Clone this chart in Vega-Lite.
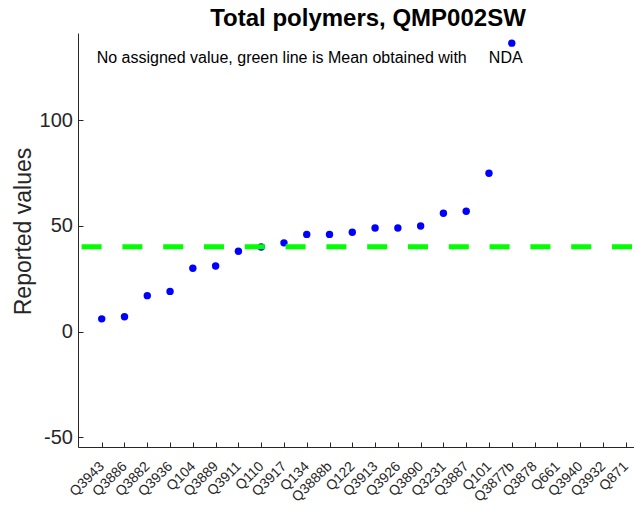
{
  "$schema": "https://vega.github.io/schema/vega-lite/v6.json",
  "width": 556,
  "height": 414,
  "autosize": {"type": "none"},
  "padding": {"left": 78, "top": 33, "right": 0, "bottom": 58},
  "background": "white",
  "config": {"view": {"stroke": null}, "font": "Liberation Sans"},
  "title": {
    "text": "Total polymers, QMP002SW",
    "font": "Liberation Sans",
    "fontSize": 24,
    "fontWeight": "bold",
    "color": "#000000",
    "anchor": "middle",
    "dx": 12,
    "offset": 2
  },
  "datasets": {
    "results": [
      {"lab": "Q3943", "value": 6},
      {"lab": "Q3886", "value": 7},
      {"lab": "Q3882", "value": 17},
      {"lab": "Q3936", "value": 19},
      {"lab": "Q104", "value": 30},
      {"lab": "Q3889", "value": 31},
      {"lab": "Q3911", "value": 38},
      {"lab": "Q110", "value": 40},
      {"lab": "Q3917", "value": 42},
      {"lab": "Q134", "value": 46},
      {"lab": "Q3888b", "value": 46},
      {"lab": "Q122", "value": 47},
      {"lab": "Q3913", "value": 49},
      {"lab": "Q3926", "value": 49},
      {"lab": "Q3890", "value": 50},
      {"lab": "Q3231", "value": 56},
      {"lab": "Q3887", "value": 57},
      {"lab": "Q101", "value": 75},
      {"lab": "Q3877b", "value": 136.6},
      {"lab": "Q3878", "value": null},
      {"lab": "Q661", "value": null},
      {"lab": "Q3940", "value": null},
      {"lab": "Q3932", "value": null},
      {"lab": "Q871", "value": null}
    ],
    "mean": [{"value": 40.1}],
    "notes": [
      {"lab": "Q3943", "value": 127, "text": "No assigned value, green line is Mean obtained with", "align": "left"},
      {"lab": "Q3877b", "value": 127, "text": "NDA", "align": "center"}
    ]
  },
  "encoding": {
    "y": {
      "field": "value",
      "type": "quantitative",
      "scale": {"domain": [-54.7, 141.4], "nice": false, "zero": false},
      "axis": {
        "title": "Reported values",
        "titleFontSize": 23,
        "titleFontWeight": "normal",
        "titleColor": "#262626",
        "titlePadding": 4,
        "titleY": 198,
        "values": [-50, 0, 50, 100],
        "labelExpr": "replace(datum.label, '\u2212', '-')",
        "labelFontSize": 20,
        "labelColor": "#262626",
        "labelPadding": 10.6,
        "tickSize": -5,
        "tickColor": "#262626",
        "domainColor": "#262626",
        "grid": false
      }
    }
  },
  "layer": [
    {
      "data": {"name": "results"},
      "mark": {"type": "circle", "size": 55, "color": "#0000ff", "opacity": 1},
      "encoding": {
        "x": {
          "field": "lab",
          "type": "nominal",
          "sort": null,
          "scale": {
            "type": "point",
            "domain": ["Q3943","Q3886","Q3882","Q3936","Q104","Q3889","Q3911","Q110","Q3917","Q134","Q3888b","Q122","Q3913","Q3926","Q3890","Q3231","Q3887","Q101","Q3877b","Q3878","Q661","Q3940","Q3932","Q871"],
            "padding": 0.7035,
            "align": 0.74
          },
          "axis": {
            "title": null,
            "labelAngle": -45,
            "labelAlign": "right",
            "labelBaseline": "middle",
            "labelFontSize": 14,
            "labelColor": "#262626",
            "labelPadding": 22,
            "tickSize": -5,
            "tickColor": "#262626",
            "domainColor": "#262626",
            "grid": false,
            "labelOverlap": false
          }
        }
      }
    },
    {
      "data": {"name": "mean"},
      "mark": {"type": "rule", "color": "#00ff00", "strokeWidth": 5, "strokeDash": [20, 20.8], "strokeDashOffset": 38.8},
      "encoding": {}
    },
    {
      "data": {"name": "notes"},
      "transform": [{"filter": "datum.align === 'left'"}],
      "mark": {"type": "text", "align": "left", "baseline": "alphabetic", "fontSize": 16, "color": "#000000", "dx": -5},
      "encoding": {
        "x": {"field": "lab", "type": "nominal", "sort": null},
        "text": {"field": "text"}
      }
    },
    {
      "data": {"name": "notes"},
      "transform": [{"filter": "datum.align === 'center'"}],
      "mark": {"type": "text", "align": "center", "baseline": "alphabetic", "fontSize": 16, "color": "#000000", "dx": -6},
      "encoding": {
        "x": {"field": "lab", "type": "nominal", "sort": null},
        "text": {"field": "text"}
      }
    }
  ]
}
